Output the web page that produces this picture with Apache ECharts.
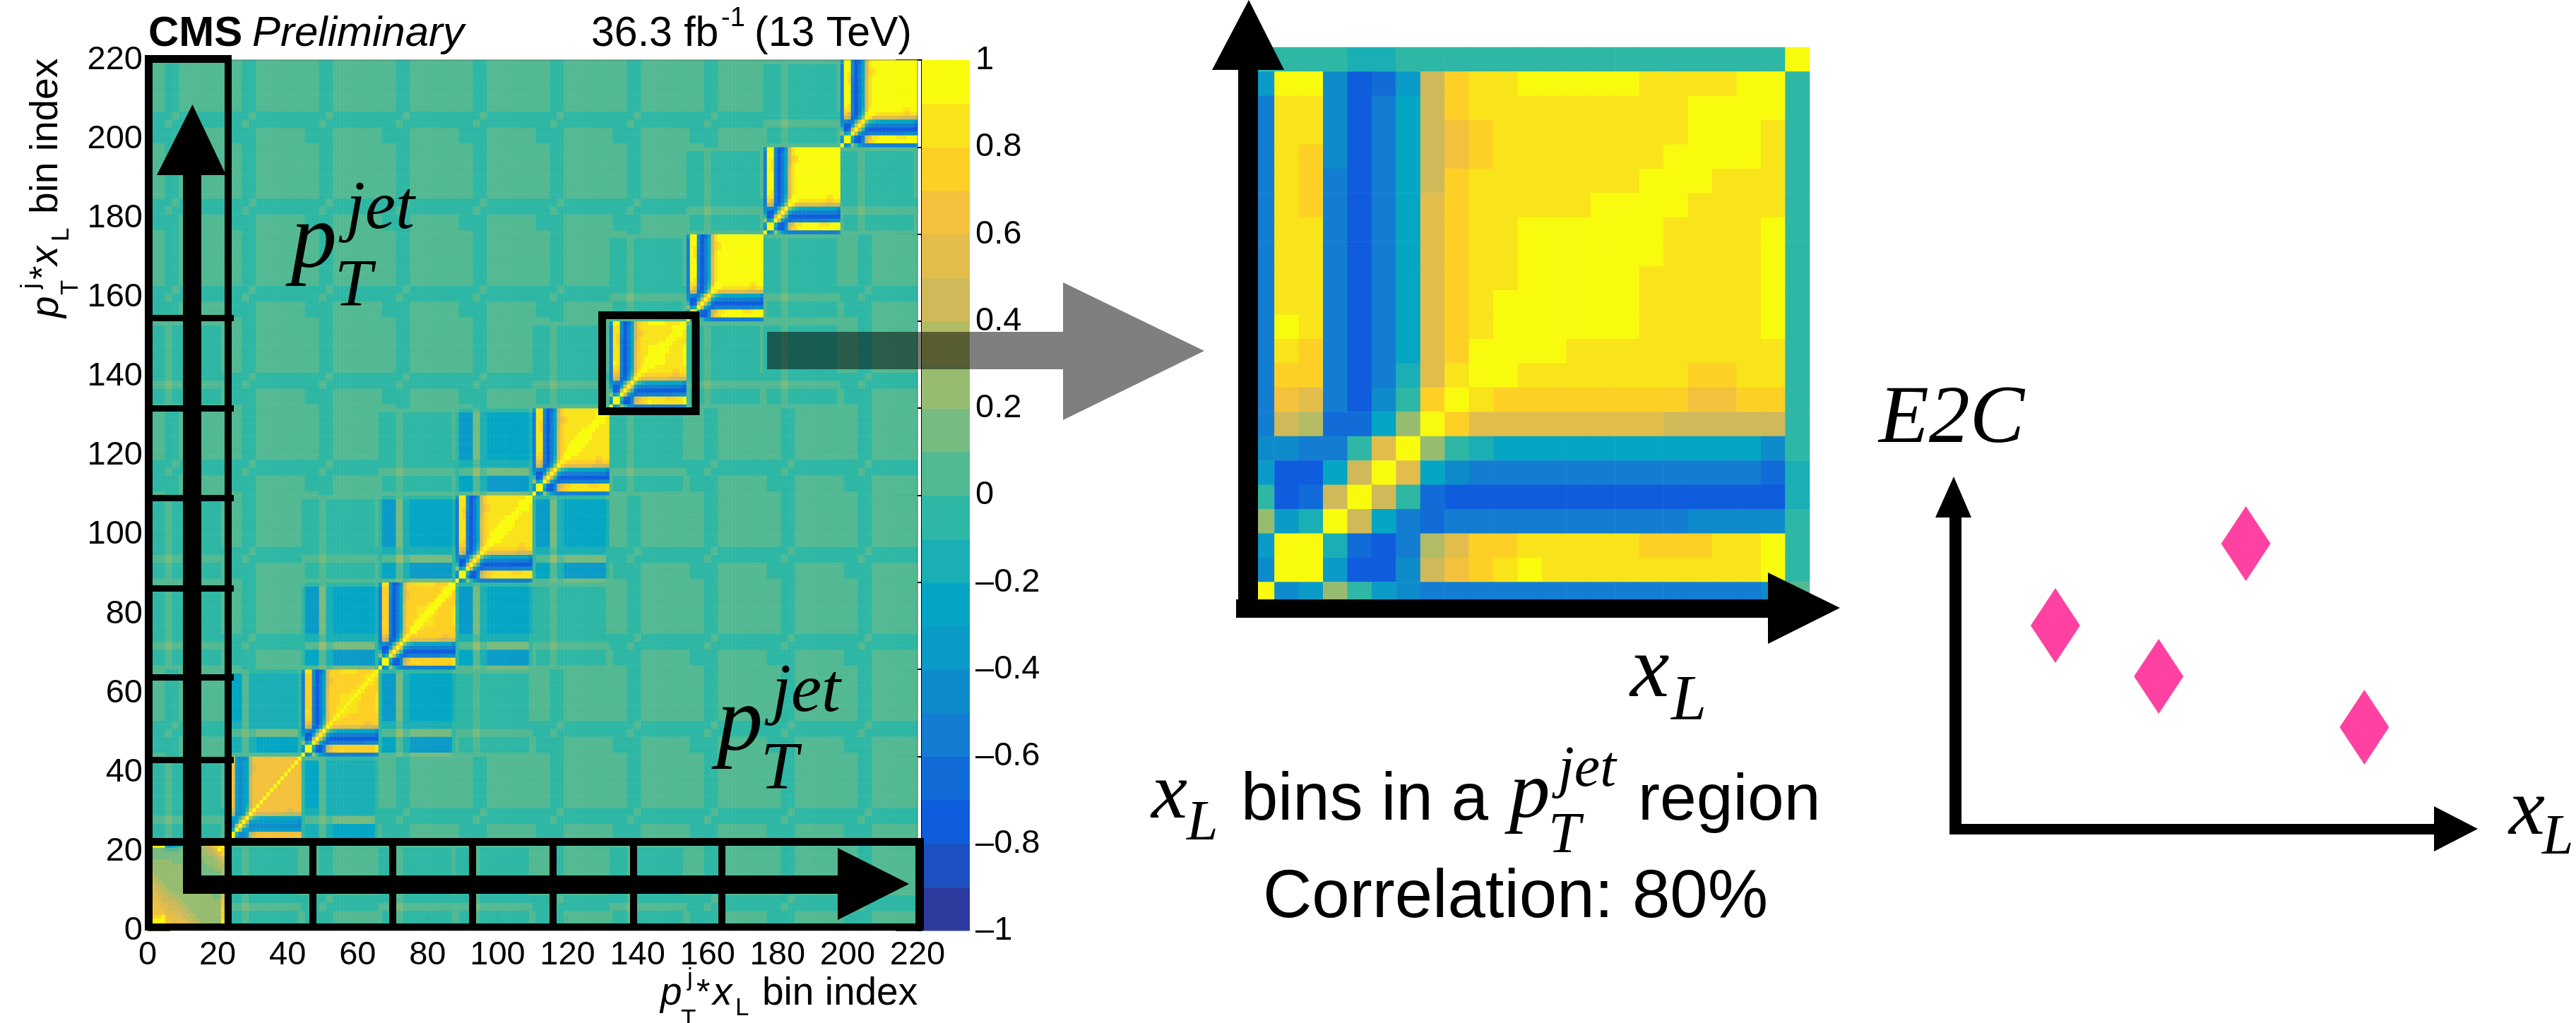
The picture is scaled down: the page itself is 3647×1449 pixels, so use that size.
<!DOCTYPE html>
<html><head><meta charset="utf-8">
<script src="https://cdn.jsdelivr.net/npm/echarts@6/dist/echarts.min.js"></script>
<style>html,body{margin:0;padding:0;background:#fff}#c{width:3647px;height:1449px}</style></head>
<body><div id="c"></div>
<script>
// ---------- values ----------
const binCount = 220;
const blockSize = 22;
const axisTicks = [0,20,40,60,80,100,120,140,160,180,200,220];
const colorTicks = [-1,-0.8,-0.6,-0.4,-0.2,0,0.2,0.4,0.6,0.8,1];
// 20 levels of the colour bar, bottom to top
const levelColors = ['#2E3A9E','#1D50C0','#0F5CDD','#116CD7','#137DD2','#0E8BCB','#0A9BC8','#04A6C4','#1AAFB5','#2EB7A4','#53B992','#77BB80','#97BC70','#B3BC64','#CFB959','#E2BD4B','#F4C13C','#FED025','#F9E31A','#F9FB0E'];
// the enlarged block (bins 132-154): rows top to bottom, columns left to right
const diagRows = [
[-.35,.95,.95,-.45,-.75,-.65,-.35,.45,.75,.85,.85,.95,.95,.95,.95,.95,.85,.85,.85,.85,.95,.95],
[-.55,.85,.85,-.45,-.75,-.55,-.25,.45,.75,.85,.85,.85,.85,.85,.85,.85,.85,.85,.95,.95,.95,.95],
[-.55,.85,.85,-.45,-.75,-.55,-.25,.45,.65,.75,.85,.85,.85,.85,.85,.85,.85,.85,.95,.95,.95,.85],
[-.55,.85,.75,-.45,-.75,-.55,-.25,.45,.65,.75,.85,.85,.85,.85,.85,.85,.85,.95,.95,.95,.95,.85],
[-.55,.85,.75,-.55,-.75,-.55,-.25,.45,.75,.85,.85,.85,.85,.85,.85,.85,.95,.95,.95,.85,.85,.85],
[-.55,.85,.75,-.55,-.75,-.55,-.25,.55,.75,.85,.85,.85,.85,.85,.95,.95,.95,.95,.85,.85,.85,.85],
[-.55,.85,.85,-.55,-.75,-.55,-.25,.55,.75,.85,.85,.95,.95,.95,.95,.95,.95,.85,.85,.85,.85,.95],
[-.55,.85,.85,-.55,-.75,-.55,-.25,.55,.75,.85,.85,.95,.95,.95,.95,.95,.95,.85,.85,.85,.85,.95],
[-.55,.85,.85,-.55,-.75,-.55,-.25,.55,.75,.85,.85,.95,.95,.95,.95,.95,.85,.85,.85,.85,.85,.95],
[-.55,.85,.85,-.55,-.75,-.55,-.25,.55,.75,.85,.95,.95,.95,.95,.95,.95,.85,.85,.85,.85,.85,.95],
[-.55,.95,.85,-.55,-.75,-.55,-.25,.55,.75,.85,.95,.95,.95,.95,.95,.95,.85,.85,.85,.85,.85,.95],
[-.55,.85,.75,-.55,-.75,-.55,-.25,.55,.75,.95,.95,.95,.95,.85,.85,.85,.85,.85,.85,.85,.85,.85],
[-.55,.75,.75,-.55,-.75,-.55,-.15,.55,.85,.95,.95,.85,.85,.85,.85,.85,.85,.85,.75,.75,.85,.85],
[-.55,.65,.55,-.55,-.75,-.45,-.05,.75,.95,.85,.75,.75,.75,.75,.75,.75,.75,.75,.65,.65,.75,.75],
[-.55,.45,.35,-.65,-.65,-.25,.25,.95,.75,.55,.55,.55,.55,.55,.55,.55,.55,.45,.45,.45,.45,.45],
[-.45,-.45,-.55,-.55,-.05,.55,.95,.25,-.05,-.15,-.25,-.25,-.25,-.25,-.25,-.25,-.25,-.25,-.25,-.25,-.25,-.45],
[-.35,-.75,-.75,-.25,.45,.95,.55,-.25,-.45,-.55,-.55,-.55,-.55,-.55,-.55,-.55,-.55,-.55,-.55,-.55,-.55,-.65],
[-.05,-.75,-.65,.45,.95,.45,-.05,-.65,-.75,-.75,-.75,-.75,-.75,-.75,-.75,-.75,-.75,-.75,-.75,-.75,-.75,-.75],
[.25,-.35,-.15,.95,.45,-.25,-.55,-.65,-.55,-.55,-.55,-.55,-.55,-.55,-.55,-.55,-.55,-.55,-.45,-.45,-.45,-.45],
[-.35,.95,.95,-.15,-.65,-.75,-.55,.35,.55,.75,.75,.85,.85,.85,.85,.85,.75,.75,.75,.85,.85,.95],
[-.45,.95,.95,-.35,-.75,-.75,-.45,.45,.65,.75,.85,.95,.85,.85,.85,.85,.85,.85,.85,.85,.85,.95],
[.95,-.45,-.35,.25,-.05,-.35,-.45,-.55,-.55,-.55,-.55,-.55,-.55,-.55,-.55,-.55,-.55,-.55,-.55,-.55,-.55,-.45]
];
// the enlarged panel also shows one more row (top) and column (right)
const zoomTopRow = [-.05,-.05,-.05,-.05,-.15,-.15,-.05,-.05,-.05,-.05,-.05,-.05,-.05,-.05,-.05,-.05,-.05,-.05,-.05,-.05,-.05,-.05,.95];
const zoomRightCol = [-.05,-.05,-.05,-.05,-.05,-.05,-.05,-.05,-.05,-.05,-.05,-.05,-.05,-.05,-.05,-.05,-.15,-.15,-.05,-.05,-.05,.05];
// first block (bins 0-22): rows bottom to top
const firstBlock = [
[.95,.95,.95,.95,.95,.65,.55,.55,.55,.55,.55,.55,.45,.45,.35,.35,.25,.25,.25,.25,.25,.95],
[.95,.95,.95,.95,.95,.65,.65,.55,.55,.55,.55,.55,.45,.45,.35,.35,.25,.25,.25,.25,.25,.95],
[.95,.95,.95,.95,.95,.65,.65,.55,.55,.55,.55,.45,.45,.35,.35,.25,.25,.25,.25,.25,.25,.85],
[.75,.75,.75,.75,.95,.65,.55,.55,.55,.55,.45,.45,.35,.35,.25,.25,.25,.25,.25,.25,.25,.75],
[.65,.65,.65,.65,.65,.55,.55,.55,.45,.45,.45,.35,.35,.25,.25,.25,.25,.25,.25,.25,.25,.75],
[.65,.65,.65,.65,.55,.55,.45,.45,.45,.45,.35,.35,.25,.25,.25,.25,.25,.25,.25,.25,.25,.75],
[.65,.65,.65,.55,.55,.55,.45,.45,.45,.35,.35,.25,.25,.25,.25,.25,.25,.25,.25,.25,.25,.65],
[.55,.55,.55,.55,.45,.45,.45,.45,.35,.35,.25,.25,.25,.25,.25,.25,.25,.25,.25,.25,.25,.65],
[.55,.55,.55,.55,.45,.45,.35,.35,.35,.25,.25,.25,.25,.25,.25,.25,.25,.25,.25,.15,.15,.55],
[.55,.55,.55,.45,.45,.35,.35,.25,.25,.25,.25,.25,.25,.25,.25,.25,.25,.25,.15,.15,.15,.55],
[.55,.55,.45,.45,.35,.35,.25,.25,.25,.25,.25,.25,.25,.25,.25,.25,.15,.15,.15,.15,.15,.45],
[.55,.55,.45,.35,.35,.25,.25,.25,.25,.25,.25,.25,.25,.25,.25,.15,.15,.15,.15,.15,.15,.45],
[.45,.45,.35,.35,.25,.25,.25,.25,.25,.25,.25,.25,.25,.25,.15,.15,.15,.15,.15,.15,.15,.45],
[.45,.45,.35,.25,.25,.25,.25,.25,.25,.25,.25,.25,.25,.15,.15,.15,.15,.15,.15,.15,.15,.35],
[.35,.35,.25,.25,.25,.25,.25,.25,.25,.25,.25,.25,.15,.15,.15,.15,.15,.15,.15,.15,.15,.35],
[.25,.25,.25,.25,.25,.25,.25,.25,.25,.25,.25,.15,.15,.15,.15,.15,.15,.15,.15,.25,.25,.35],
[.25,.25,.25,.25,.25,.25,.25,.25,.25,.25,.15,.15,.15,.15,.15,.15,.15,.25,.25,.25,.35,.35],
[.25,.25,.25,.25,.25,.25,.25,.15,.15,.15,.15,.15,.15,.15,.15,.15,.25,.25,.25,.25,.35,.45],
[.15,.15,.15,.15,.15,.15,.15,.15,.15,.15,.15,.15,.15,.15,.25,.25,.25,.25,.25,.35,.45,.55],
[.15,.15,.15,.15,.15,.15,.15,.15,.15,.15,.15,.15,.15,.25,.25,.25,.25,.35,.35,.45,.55,.75],
[.15,.15,.15,.15,.15,.05,.05,.05,.05,.15,.15,.15,.25,.25,.25,.25,.35,.35,.45,.55,.95,.75],
[.95,.95,.95,.95,.95,-.35,-.35,-.25,-.15,-.05,.05,.05,.15,.25,.25,.35,.35,.45,.55,.75,.75,.95]
];
// stripes of a block, by bin offset: 0 edge, 1 peak, 2 stripe, 3 shoulder, 4 interior, 5 edge
const binZones = [0,1,1,1,1,2,2,3,3,4,4,4,4,4,4,4,4,4,4,4,4,5];
// off-diagonal block looks: row = zone on y, column = zone on x
const offFar = [
[.05,.05,-.05,-.05,.05,.05],[.05,-.05,-.05,-.05,.05,.05],[-.05,-.05,.05,-.05,-.05,-.05],
[-.05,-.05,-.05,.05,-.05,-.05],[.05,.05,-.05,-.05,.05,.05],[.05,.05,-.05,-.05,.05,.05]];
const offNear = [
[.05,.05,.05,.05,.05,.05],[.05,-.05,.05,-.05,-.05,.05],[.05,.05,.15,.05,.05,.05],
[-.05,-.05,.05,-.05,-.05,-.05],[-.05,-.05,.05,-.05,-.05,.05],[.05,.05,.05,.05,.05,.05]];
const offMid = [
[.05,.05,.05,.05,.05,.05],[-.05,-.15,.05,-.15,-.25,-.05],[-.05,.05,.15,.05,.15,-.05],
[-.05,-.15,.05,-.15,-.15,-.05],[-.05,-.25,.05,-.15,-.15,-.05],[.05,.05,.05,-.05,-.05,.05]];
const offStrong = [
[.05,.05,.15,.05,.15,.05],[-.05,-.25,.05,-.15,-.35,-.05],[-.05,.05,.25,.05,.15,-.05],
[-.05,-.15,.05,-.15,-.15,-.05],[-.05,-.35,.15,-.15,-.25,-.15],[.05,-.05,.05,-.05,-.05,.05]];
const offTables = {f:offFar, n:offNear, m:offMid, s:offStrong};
// which look each pair of pT blocks has: rows = y block bottom to top, columns = x block
const blockLooks = [
['d','n','f','n','n','f','n','f','f','f'],
['n','d','m','f','f','f','f','f','f','f'],
['f','m','d','s','n','f','f','f','f','f'],
['n','f','s','d','s','n','f','f','f','f'],
['n','f','n','s','d','s','f','f','f','f'],
['f','f','f','n','s','d','n','f','f','f'],
['n','f','f','f','f','n','d','n','n','f'],
['f','f','f','f','f','f','n','d','n','f'],
['f','f','f','f','f','f','f','n','d','n'],
['f','f','f','f','f','f','f','f','n','d']];
// how the enlarged block's levels read in the other diagonal blocks
const weakLevels = {'.95':.65,'.85':.65,'.75':.65,'.65':.55,'.55':.45,'.45':.35,'-.75':-.45,'-.65':-.45,'-.55':-.35,'-.45':-.35};
const softLevels = {'.95':.85,'.85':.75};
const midLevels = {'.95':.85};
const sameLevels = {};
const richLevels = {'.85':.95,'.75':.85,'.65':.75};
const blockLevels = [sameLevels,weakLevels,softLevels,softLevels,midLevels,midLevels,sameLevels,richLevels,richLevels,richLevels];
// bins either side of the diagonal that stay at full yellow
const yellowBand = [0,0,0,1,2,2,22,22,22,22];
// schematic E2C points, arbitrary units
const e2cX = [19.2,39,55.7,78.4];
const e2cY = [57.8,43.4,81,29];

// ---------- tables for the library ----------
const key = v => String(v).replace('0.','.');
const mainCats = Array.from({length:binCount},(_,i)=>String(i));
const mainData = [];
for (let y=0;y<binCount;y++) for (let x=0;x<binCount;x++){
  const I=Math.floor(x/blockSize), J=Math.floor(y/blockSize), a=x%blockSize, b=y%blockSize;
  let v;
  if (I!==J) v = offTables[blockLooks[J][I]][binZones[b]][binZones[a]];
  else if (I===0) v = firstBlock[b][a];
  else {
    const raw = diagRows[blockSize-1-b][a];
    const keep = a===b || (raw===.95 && Math.abs(a-b)<=yellowBand[I]) || (a<3 && b<3);
    const m = blockLevels[I][key(raw)];
    v = keep ? raw : (m===undefined ? raw : m);
    if (a===b) v=.95;
  }
  mainData.push([x,y,v]);
}
const zoomCats = Array.from({length:23},(_,i)=>String(i));
const zoomData = [];
for (let c=0;c<23;c++) zoomData.push([c,22,zoomTopRow[c]]);
diagRows.forEach((row,r)=>{
  row.forEach((v,c)=>zoomData.push([c,21-r,v]));
  zoomData.push([22,21-r,zoomRightCol[r]]);
});
const barBands = levelColors.map((c,i)=>[-1+i*0.1,-0.9+i*0.1]);
const pieces = levelColors.map((c,i)=>({min:-1+i*0.1,max:-0.9+i*0.1,color:c}));

// ---------- annotation helpers ----------
const SANS='"Liberation Sans"', SERIF='"Liberation Serif"';
const MID=0.32;
const txt=(s,x,base,size,style,fam)=>({type:'text',z:50,x:x,y:base-MID*size,
  style:{text:s,font:(style||'normal')+' '+size+'px '+(fam||SANS),fill:'#000',align:'left',verticalAlign:'middle'}});
const vtxt=(s,bx,y,size,style,fam)=>({type:'text',z:50,x:bx-MID*size,y:y,rotation:Math.PI/2,
  style:{text:s,font:(style||'normal')+' '+size+'px '+(fam||SANS),fill:'#000',align:'left',verticalAlign:'middle'}});
const box=(x,y,w,h)=>({type:'rect',z:40,shape:{x,y,width:w,height:h},style:{fill:'#000'}});
const poly=(pts,fill,z)=>({type:'polygon',z:z||41,shape:{points:pts},style:{fill:fill||'#000'}});

const graphics=[
 // thin frame of the matrix
 {type:'rect',z:30,shape:{x:209,y:85,width:1090,height:1233},style:{fill:'none',stroke:'rgba(60,60,60,0.6)',lineWidth:1}},
 // frame strips on the big matrix
 box(205,78,11,1240), box(318,78,10,1240), box(205,78,123,11),
 box(205,1308,1103,10), box(205,1187,1103,11), box(1296,1187,12,131),
 box(205,446,126,9), box(205,574,126,9), box(205,701,126,9), box(205,829,126,9), box(205,955,126,9), box(205,1072,126,9),
 box(438,1187,10,131), box(551,1187,10,131), box(664,1187,10,131), box(778,1187,10,131), box(892,1187,10,131), box(1017,1187,10,131),
 {type:'rect',z:40,shape:{x:852.5,y:446.5,width:132.5,height:136},style:{fill:'none',stroke:'#000',lineWidth:11}},
 // big arrows on the matrix
 box(259,248,26,1018), box(259,1240,927,26),
 poly([[222,248],[272.5,148],[320,248]]), poly([[1186,1201],[1287,1252],[1186,1303]]),
 // grey arrow
 poly([[1086,470],[1505,470],[1505,400],[1705,497],[1505,595],[1505,523],[1086,523]],'rgba(0,0,0,0.5)',45),
 // zoom panel arrows
 box(1753,99,28,776), box(1750,849,753,26),
 poly([[1716,99],[1768,0],[1818,99]]), poly([[2503,811],[2605,861],[2503,912]]),
 // schematic arrows
 box(2760,733,17,449), box(2760,1167,686,15),
 poly([[2740,733],[2766,675],[2791,733]]), poly([[3446,1142],[3508,1174],[3446,1206]]),
 // header
 txt('CMS',210,68,60,'bold'), txt('Preliminary',357,68,60,'italic'),
 txt('36.3 fb',837,68,59), txt('-1',1021,39,38), txt('(13 TeV)',1068,68,59),
 // big pT labels
 txt('p',412,384,130,'italic',SERIF), txt('jet',490,329,97,'italic',SERIF), txt('T',474,438,95,'italic',SERIF),
 txt('p',1015,1068,130,'italic',SERIF), txt('jet',1093,1013,97,'italic',SERIF), txt('T',1077,1122,95,'italic',SERIF),
 // x axis title
 txt('p',935,1425,55,'italic'), txt('j',973,1398,35), txt('*',986,1424,50), txt('T',964,1456,35),
 txt('x',1009,1425,55,'italic'), txt('L',1041,1440,35), txt('bin index',1079,1425,55),
 // y axis title
 vtxt('p',84,450,55,'italic'), vtxt('j',56,409,35), vtxt('*',79,396,50), vtxt('T',112,418,35),
 vtxt('x',83,376,55,'italic'), vtxt('L',99,342,35), vtxt('bin index',83,303,55),
 // zoom panel labels
 txt('x',2308,993,125,'italic',SERIF), txt('L',2366,1024,90,'italic',SERIF),
 txt('x',1630,1165,115,'italic',SERIF), txt('L',1680,1194,80,'italic',SERIF),
 txt('bins in a',1757,1165,94), txt('p',2137,1164,115,'italic',SERIF), txt('jet',2206,1118,82,'italic',SERIF), txt('T',2192,1212,82,'italic',SERIF),
 txt('region',2319,1165,93), txt('Correlation: 80%',1788,1303,96),
 // schematic labels
 txt('E2C',2660,633,116,'italic',SERIF), txt('x',3552,1188,115,'italic',SERIF), txt('L',3599,1214,80,'italic',SERIF)
];

const hidden=(type,idx,data)=>({type,gridIndex:idx,show:false,data});
const option={
 animation:false, backgroundColor:'#fff',
 grid:[
  {left:209,top:85,width:1090,height:1233},
  {left:1770,top:67,width:792,height:792},
  {left:1305,top:85,width:68,height:1233},
  {left:2768,top:675,width:739,height:500}
 ],
 xAxis:[
  hidden('category',0,mainCats),
  {type:'value',gridIndex:0,position:'bottom',min:0,max:220,interval:20,splitLine:{show:false},
   axisLine:{show:false},axisTick:{show:true,inside:true,length:22,lineStyle:{color:'#000',width:2}},
   minorTick:{show:true,splitNumber:4,length:10,lineStyle:{color:'#000',width:2}},
   axisLabel:{color:'#000',fontSize:47,fontFamily:'Liberation Sans',margin:12,showMinLabel:true,showMaxLabel:true,hideOverlap:false,
     formatter:v=>axisTicks.includes(v)?String(v):''}},
  hidden('category',1,zoomCats),
  {type:'value',gridIndex:2,min:0,max:1,show:false},
  {type:'value',gridIndex:3,min:0,max:100,show:false}
 ],
 yAxis:[
  hidden('category',0,mainCats),
  {type:'value',gridIndex:0,position:'left',min:0,max:220,interval:20,splitLine:{show:false},
   axisLine:{show:false},axisTick:{show:true,inside:true,length:32,lineStyle:{color:'#000',width:2}},
   minorTick:{show:true,splitNumber:4,length:14,lineStyle:{color:'#000',width:2}},
   axisLabel:{color:'#000',fontSize:47,fontFamily:'Liberation Sans',margin:7,showMinLabel:true,showMaxLabel:true,hideOverlap:false,
     formatter:v=>axisTicks.includes(v)?String(v):''}},
  hidden('category',1,zoomCats),
  {type:'value',gridIndex:2,position:'right',min:-1,max:1,interval:0.2,splitLine:{show:false},
   axisLine:{show:true,lineStyle:{color:'#000',width:2}},
   axisTick:{show:true,inside:true,length:37,lineStyle:{color:'#000',width:2}},
   axisLabel:{color:'#000',fontSize:47,fontFamily:'Liberation Sans',margin:8,showMinLabel:true,showMaxLabel:true,hideOverlap:false,
     formatter:v=>{const t=colorTicks.find(k=>Math.abs(k-v)<1e-6);if(t===undefined)return '';return String(t).replace('-','\u2013');}}},
  {type:'value',gridIndex:3,min:0,max:100,show:false}
 ],
 visualMap:[{type:'piecewise',show:false,seriesIndex:[0,1],dimension:2,pieces:pieces}],
 series:[
  {type:'heatmap',xAxisIndex:0,yAxisIndex:0,data:mainData,progressive:0,silent:true,emphasis:{disabled:true}},
  {type:'heatmap',xAxisIndex:2,yAxisIndex:2,data:zoomData,progressive:0,silent:true,emphasis:{disabled:true}},
  {type:'custom',xAxisIndex:3,yAxisIndex:3,data:barBands,silent:true,encode:{y:[0,1]},
   renderItem:(p,api)=>{
     const a=api.coord([0,api.value(0)]), b=api.coord([1,api.value(1)]);
     return {type:'rect',shape:{x:a[0],y:b[1],width:b[0]-a[0],height:a[1]-b[1]+0.5},style:{fill:levelColors[p.dataIndex]}};
   }},
  {type:'scatter',xAxisIndex:4,yAxisIndex:4,symbol:'diamond',symbolSize:[70,106],itemStyle:{color:'#FF42A1',opacity:1},silent:true,
   data:e2cX.map((x,i)=>[x,e2cY[i]])}
 ],
 graphic:{elements:graphics}
};
echarts.init(document.getElementById('c'),null,{renderer:'canvas'}).setOption(option);
</script></body></html>
